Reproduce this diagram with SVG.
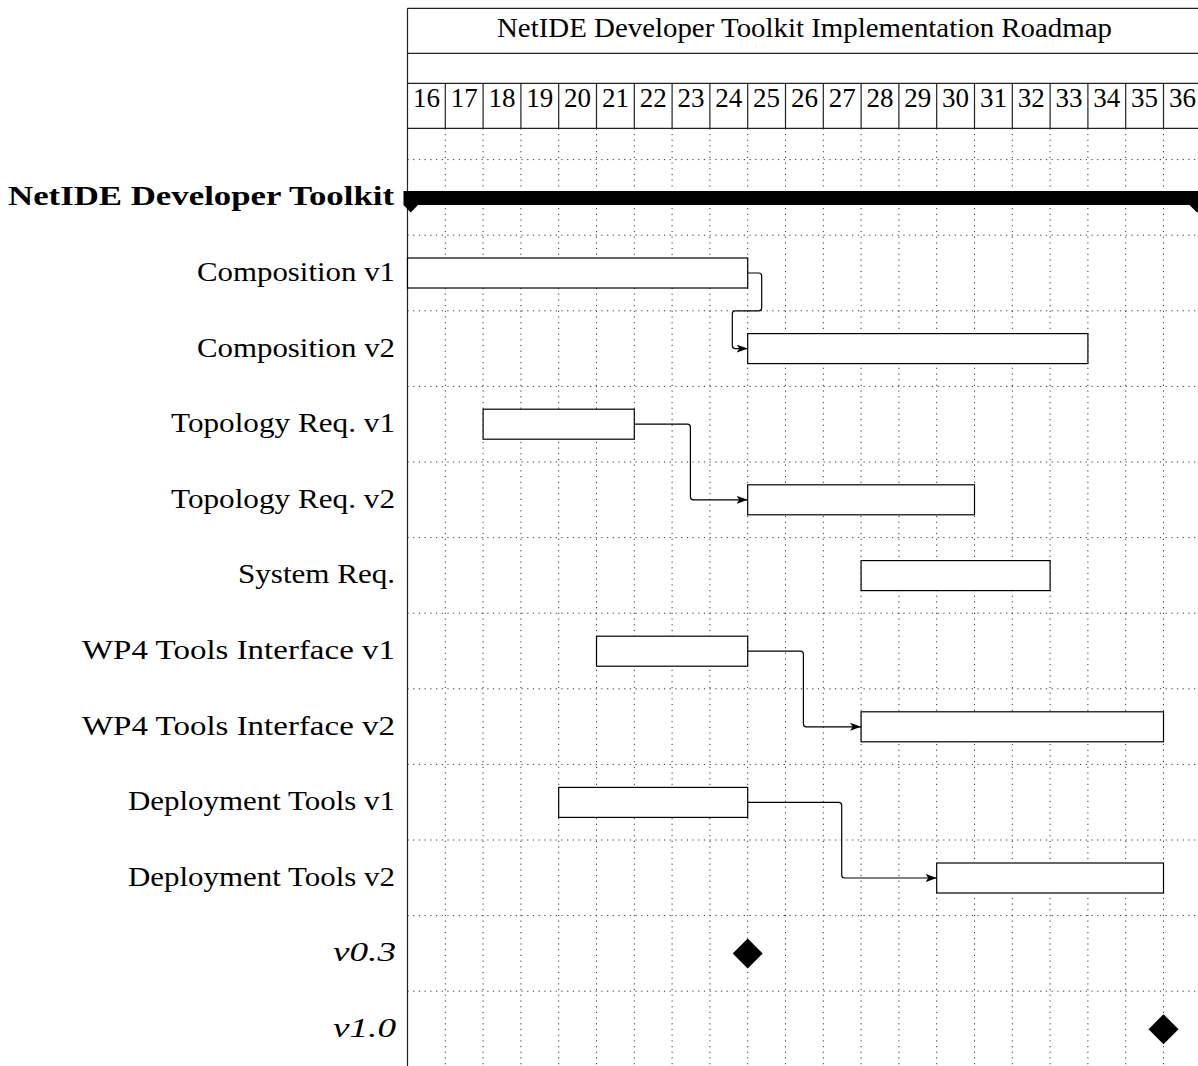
<svg xmlns="http://www.w3.org/2000/svg" width="1198" height="1066" viewBox="0 0 1198 1066">
<style>
text{font-family:"Liberation Serif","Times New Roman",serif;font-size:27px;fill:#000}
.num{text-anchor:middle}
.hl{stroke:#222;stroke-width:1.2;fill:none}
.grid{stroke:#333;stroke-width:1;stroke-dasharray:1.2 4.5;fill:none}
.bar{fill:#fff;stroke:#000;stroke-width:1.2}
.link{fill:none;stroke:#000;stroke-width:1.2;marker-end:url(#arr)}
.ms{fill:#000}
</style>
<defs>
<marker id="arr" markerUnits="userSpaceOnUse" markerWidth="12" markerHeight="10" viewBox="0 0 12 10" refX="11" refY="5" orient="auto">
<path d="M0,1 L11,5 L0,9 L2.5,5 Z" fill="#000"/>
</marker>
</defs>
<rect width="1198" height="1066" fill="#fff"/>
<g id="grid">
<path class="grid" d="M407.5,159.6H1200M407.5,235.2H1200M407.5,310.8H1200M407.5,386.4H1200M407.5,462H1200M407.5,537.6H1200M407.5,613.2H1200M407.5,688.8H1200M407.5,764.4H1200M407.5,840H1200M407.5,915.6H1200M407.5,991.2H1200"/>
<path class="grid" d="M445.3,128.3V1066M483.1,128.3V1066M520.9,128.3V1066M558.7,128.3V1066M596.5,128.3V1066M634.3,128.3V1066M672.1,128.3V1066M709.9,128.3V1066M747.7,128.3V1066M785.5,128.3V1066M823.3,128.3V1066M861.1,128.3V1066M898.9,128.3V1066M936.7,128.3V1066M974.5,128.3V1066M1012.3,128.3V1066M1050.1,128.3V1066M1087.9,128.3V1066M1125.7,128.3V1066M1163.5,128.3V1066"/>
</g>
<g id="header">
<path class="hl" d="M407.5,8.3H1201.3M407.5,53.3H1201.3M407.5,83.3H1201.3M407.5,128.3H1201.3M407.5,8.3V1066"/>
<path class="hl" d="M445.3,83.3V128.3M483.1,83.3V128.3M520.9,83.3V128.3M558.7,83.3V128.3M596.5,83.3V128.3M634.3,83.3V128.3M672.1,83.3V128.3M709.9,83.3V128.3M747.7,83.3V128.3M785.5,83.3V128.3M823.3,83.3V128.3M861.1,83.3V128.3M898.9,83.3V128.3M936.7,83.3V128.3M974.5,83.3V128.3M1012.3,83.3V128.3M1050.1,83.3V128.3M1087.9,83.3V128.3M1125.7,83.3V128.3M1163.5,83.3V128.3"/>
<text x="497" y="37" textLength="615" lengthAdjust="spacingAndGlyphs">NetIDE Developer Toolkit Implementation Roadmap</text>
<g class="num">
<text class="num" x="426.4" y="107">16</text>
<text class="num" x="464.2" y="107">17</text>
<text class="num" x="502" y="107">18</text>
<text class="num" x="539.8" y="107">19</text>
<text class="num" x="577.6" y="107">20</text>
<text class="num" x="615.4" y="107">21</text>
<text class="num" x="653.2" y="107">22</text>
<text class="num" x="691" y="107">23</text>
<text class="num" x="728.8" y="107">24</text>
<text class="num" x="766.6" y="107">25</text>
<text class="num" x="804.4" y="107">26</text>
<text class="num" x="842.2" y="107">27</text>
<text class="num" x="880" y="107">28</text>
<text class="num" x="917.8" y="107">29</text>
<text class="num" x="955.6" y="107">30</text>
<text class="num" x="993.4" y="107">31</text>
<text class="num" x="1031.2" y="107">32</text>
<text class="num" x="1069" y="107">33</text>
<text class="num" x="1106.8" y="107">34</text>
<text class="num" x="1144.6" y="107">35</text>
<text class="num" x="1182.4" y="107">36</text>
</g>
</g>
<g id="group-toolkit">
<text x="8" y="205" font-weight="bold" textLength="386" lengthAdjust="spacingAndGlyphs">NetIDE Developer Toolkit</text>
<path d="M403.5,191H1206V205H1205L1197,212.5L1189.5,205H418L410.7,212.5L403.5,205Z" fill="#000"/>
</g>
<g id="task-composition-v1">
<text x="197" y="281" textLength="198" lengthAdjust="spacingAndGlyphs">Composition v1</text>
<rect class="bar" x="407.5" y="258" width="340.2" height="30"/>
</g>
<g id="task-composition-v2">
<text x="197" y="356.6" textLength="198" lengthAdjust="spacingAndGlyphs">Composition v2</text>
<rect class="bar" x="747.7" y="333.6" width="340.2" height="30"/>
</g>
<g id="task-topology-v1">
<text x="171" y="432.2" textLength="224" lengthAdjust="spacingAndGlyphs">Topology Req. v1</text>
<rect class="bar" x="483.1" y="409.2" width="151.2" height="30"/>
</g>
<g id="task-topology-v2">
<text x="171" y="507.8" textLength="224" lengthAdjust="spacingAndGlyphs">Topology Req. v2</text>
<rect class="bar" x="747.7" y="484.8" width="226.8" height="30"/>
</g>
<g id="task-system-req">
<text x="238" y="583.4" textLength="157" lengthAdjust="spacingAndGlyphs">System Req.</text>
<rect class="bar" x="861.1" y="560.6" width="189" height="30"/>
</g>
<g id="task-wp4-v1">
<text x="82" y="659" textLength="313" lengthAdjust="spacingAndGlyphs">WP4 Tools Interface v1</text>
<rect class="bar" x="596.5" y="636.2" width="151.2" height="30"/>
</g>
<g id="task-wp4-v2">
<text x="82" y="734.6" textLength="313" lengthAdjust="spacingAndGlyphs">WP4 Tools Interface v2</text>
<rect class="bar" x="861.1" y="711.8" width="302.4" height="30"/>
</g>
<g id="task-deployment-v1">
<text x="128" y="810.2" textLength="267" lengthAdjust="spacingAndGlyphs">Deployment Tools v1</text>
<rect class="bar" x="558.7" y="787.4" width="189" height="30"/>
</g>
<g id="task-deployment-v2">
<text x="128" y="885.8" textLength="267" lengthAdjust="spacingAndGlyphs">Deployment Tools v2</text>
<rect class="bar" x="936.7" y="863" width="226.8" height="30"/>
</g>
<g id="milestone-v03">
<text x="333" y="961" font-style="italic" textLength="63" lengthAdjust="spacingAndGlyphs">v0.3</text>
<path class="ms" d="M747.7,938.6L762.7,953.6L747.7,968.6L732.7,953.6Z"/>
</g>
<g id="milestone-v10">
<text x="333" y="1036.6" font-style="italic" textLength="63" lengthAdjust="spacingAndGlyphs">v1.0</text>
<path class="ms" d="M1163.5,1014.2L1178.5,1029.2L1163.5,1044.2L1148.5,1029.2Z"/>
</g>
<g id="connectors">
<path class="link" d="M747.7,273H758.7Q761.7,273 761.7,276V307.8Q761.7,310.8 758.7,310.8H735.3Q732.3,310.8 732.3,313.8V345.6Q732.3,348.6 735.3,348.6H747.7"/>
<path class="link" d="M634.3,424.2H687.4Q690.4,424.2 690.4,427.2V496.8Q690.4,499.8 693.4,499.8H747.7"/>
<path class="link" d="M747.7,651.2H800.4Q803.4,651.2 803.4,654.2V723.8Q803.4,726.8 806.4,726.8H861.1"/>
<path class="link" d="M747.7,802.4H838.7Q841.7,802.4 841.7,805.4V875Q841.7,878 844.7,878H936.7"/>
</g>
</svg>
